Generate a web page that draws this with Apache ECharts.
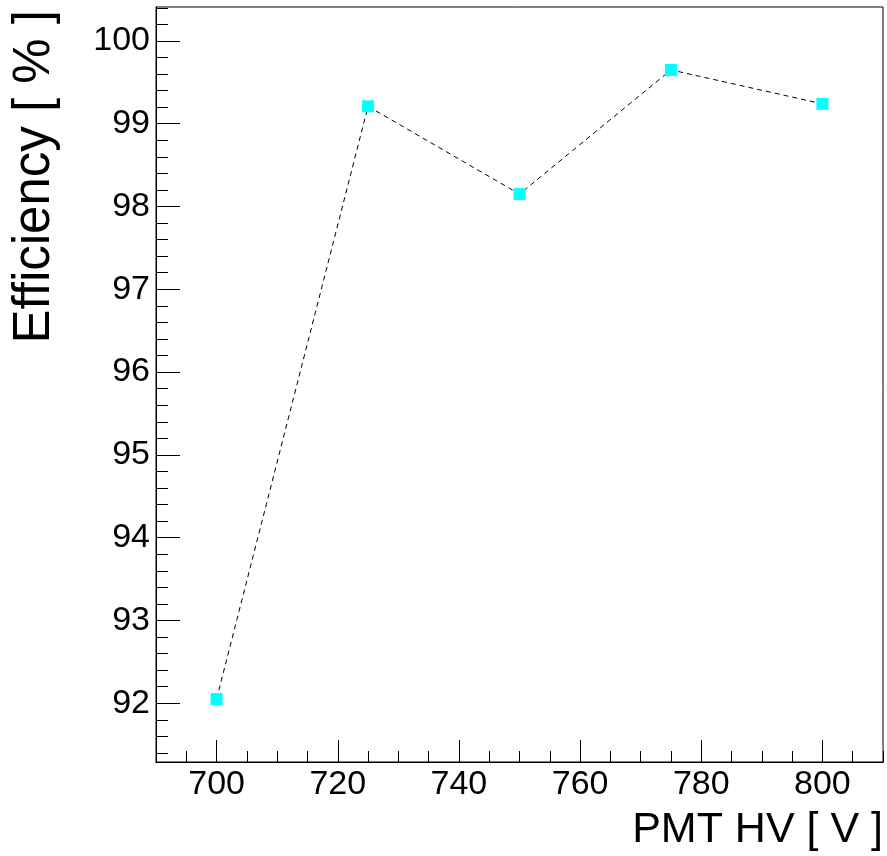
<!DOCTYPE html>
<html><head><meta charset="utf-8">
<script src="https://cdn.jsdelivr.net/npm/echarts@6/dist/echarts.min.js"></script>
<style>html,body{margin:0;padding:0;background:#fff}#c{width:887px;height:856px}</style>
</head><body><div id="c"></div>
<script>
const hv = [700, 725, 750, 775, 800];
const efficiency = [92.05, 99.21, 98.15, 99.65, 99.24];
const xMajorTicks = [700, 720, 740, 760, 780, 800];
const xMinorTicks = [690, 695, 705, 710, 715, 725, 730, 735, 745, 750, 755, 765, 770, 775, 785, 790, 795, 805, 810];
const yMajorTicks = [92, 93, 94, 95, 96, 97, 98, 99, 100];
const yMinorTicks = [91.4, 91.6, 91.8, 92.2, 92.4, 92.6, 92.8, 93.2, 93.4, 93.6, 93.8, 94.2, 94.4, 94.6, 94.8,
  95.2, 95.4, 95.6, 95.8, 96.2, 96.4, 96.6, 96.8, 97.2, 97.4, 97.6, 97.8, 98.2, 98.4, 98.6, 98.8,
  99.2, 99.4, 99.6, 99.8, 100.2, 100.4];
const xTitle = 'PMT HV [ V ]';
const yTitle = 'Efficiency [ % ]';
const xRange = [690, 810];
const yRange = [91.29, 100.41];

const FONT = 'Liberation Sans';
const chart = echarts.init(document.getElementById('c'), null, {renderer: 'canvas'});
const lineBlack = {color: '#000', width: 1};

function xAxisDef(ticks, len, labels) {
  return {
    type: 'value', min: xRange[0], max: xRange[1], position: 'bottom',
    axisLine: {show: true, onZero: false, lineStyle: lineBlack},
    axisTick: {show: true, inside: true, length: len, customValues: ticks, lineStyle: lineBlack},
    axisLabel: labels ? {show: true, customValues: ticks, margin: 6, color: '#000', fontFamily: FONT, fontSize: 34} : {show: false},
    splitLine: {show: false}
  };
}
function yAxisDef(ticks, len, labels) {
  return {
    type: 'value', min: yRange[0], max: yRange[1], position: 'left',
    axisLine: {show: true, onZero: false, lineStyle: lineBlack},
    axisTick: {show: true, inside: true, length: len, customValues: ticks, lineStyle: lineBlack},
    axisLabel: labels ? {show: true, customValues: ticks, margin: 6, color: '#000', fontFamily: FONT, fontSize: 34} : {show: false},
    splitLine: {show: false}
  };
}

const xMain = xAxisDef(xMajorTicks, 22, true);
xMain.name = xTitle;
xMain.nameLocation = 'end';
xMain.nameGap = 0;
xMain.nameTextStyle = {fontFamily: FONT, fontSize: 43, color: '#000', align: 'right', verticalAlign: 'top', padding: [47, 0, 0, 0]};

chart.setOption({
  backgroundColor: '#fff',
  animation: false,
  grid: {left: 156, top: 7, right: 4, bottom: 94, show: true, borderColor: '#000', borderWidth: 1, backgroundColor: 'transparent'},
  xAxis: [xMain, xAxisDef(xMinorTicks, 11, false)],
  yAxis: [yAxisDef(yMajorTicks, 24, true), yAxisDef(yMinorTicks, 12, false)],
  graphic: [{
    type: 'text', x: 35, y: 10, rotation: Math.PI / 2,
    style: {text: yTitle, fontFamily: FONT, fontSize: 51, fill: '#000', align: 'right', verticalAlign: 'middle'}
  }],
  series: [{
    type: 'line', xAxisIndex: 0, yAxisIndex: 0,
    data: hv.map((x, i) => [x, efficiency[i]]),
    symbol: 'rect', symbolSize: 12,
    itemStyle: {color: '#00ffff'},
    lineStyle: {color: '#000', width: 1, type: [5, 4]},
    z: 3
  }]
});
</script></body></html>
